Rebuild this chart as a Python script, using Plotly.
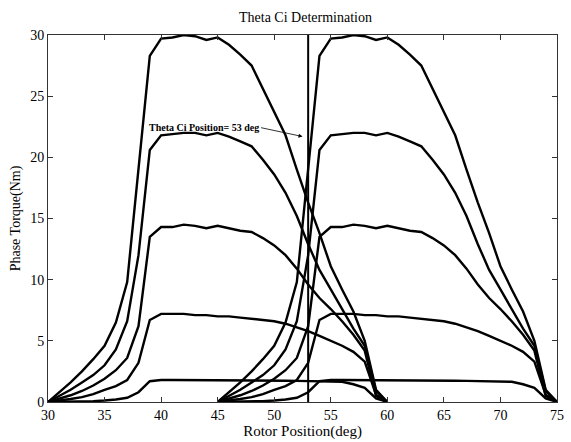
import plotly.graph_objects as go

# Rotor angles (deg) for the two phases
angle_phase_a = list(range(30, 61))
angle_phase_b = list(range(45, 76))

# Phase torque (Nm) at each degree, one list per current level
torque_c1 = [0, 0.01, 0.02, 0.04, 0.07, 0.12, 0.2, 0.35, 0.8, 1.7,
             1.8, 1.8, 1.8, 1.8, 1.8, 1.8, 1.79, 1.78, 1.77, 1.76,
             1.75, 1.74, 1.73, 1.72, 1.71, 1.7, 1.65, 1.45, 1.15, 0.3, 0]
torque_c2 = [0, 0.1, 0.25, 0.4, 0.65, 1.0, 1.3, 1.8, 3.2, 6.7,
             7.2, 7.2, 7.2, 7.1, 7.1, 7.0, 7.0, 6.9, 6.8, 6.7,
             6.6, 6.4, 6.1, 5.8, 5.4, 5.0, 4.6, 4.1, 3.3, 0.6, 0]
torque_c3 = [0, 0.25, 0.55, 0.9, 1.35, 1.9, 2.6, 3.6, 6.2, 13.5,
             14.3, 14.3, 14.5, 14.4, 14.2, 14.4, 14.2, 14.0, 13.9, 13.4,
             12.8, 12.0, 10.9, 9.6, 8.5, 7.6, 6.6, 5.5, 4.2, 0.5, 0]
torque_c4 = [0, 0.5, 1.0, 1.6, 2.2, 3.0, 4.3, 6.6, 12.0, 20.6,
             21.8, 21.9, 22.0, 22.0, 21.8, 22.0, 21.7, 21.3, 20.9, 19.8,
             18.6, 17.1, 15.2, 12.9, 10.8, 9.2, 7.6, 6.0, 4.6, 0.9, 0]
torque_c5 = [0, 0.8, 1.6, 2.5, 3.5, 4.6, 6.5, 9.8, 19.0, 28.3,
             29.7, 29.8, 30.0, 29.9, 29.6, 29.8, 29.2, 28.4, 27.5, 25.6,
             23.7, 21.8, 19.0, 16.3, 13.8, 11.1, 9.2, 7.4, 5.0, 1.0, 0]

theta_ci = 53
annotation_text = "Theta Ci Position= 53 deg"
x_ticks = [30, 35, 40, 45, 50, 55, 60, 65, 70, 75]
y_ticks = [0, 5, 10, 15, 20, 25, 30]

serif = "Liberation Serif, Times New Roman, serif"
fig = go.Figure()
for series in [torque_c1, torque_c2, torque_c3, torque_c4, torque_c5]:
    for ang in [angle_phase_a, angle_phase_b]:
        fig.add_trace(go.Scatter(x=ang, y=series, mode="lines",
                                 line=dict(color="black", width=2.4),
                                 showlegend=False, hoverinfo="skip"))

fig.add_trace(go.Scatter(x=[theta_ci, theta_ci], y=[0, 30], mode="lines",
                         line=dict(color="black", width=2),
                         showlegend=False, hoverinfo="skip"))

fig.add_annotation(x=52.5, y=21.7, ax=48.7, ay=22.45, xref="x", yref="y",
                   axref="x", ayref="y", text="", showarrow=True,
                   arrowhead=2, arrowsize=1, arrowwidth=0.8, arrowcolor="black")
fig.add_annotation(x=48.8, y=22.45, xref="x", yref="y", text=annotation_text,
                   showarrow=False, xanchor="right", yanchor="middle",
                   font=dict(family=serif, size=10, color="black", weight="bold"))

axis_common = dict(showgrid=False, zeroline=False, showline=True,
                   linecolor="#333333", linewidth=1, mirror="ticks",
                   ticks="inside", ticklen=5, tickcolor="#333333",
                   tickfont=dict(family=serif, size=14, color="black"))
fig.update_xaxes(range=[30, 75], tickvals=x_ticks,
                 title=dict(text="Rotor Position(deg)", standoff=2,
                            font=dict(family=serif, size=15, color="black")),
                 **axis_common)
fig.update_yaxes(range=[0, 30], tickvals=y_ticks,
                 title=dict(text="Phase Torque(Nm)", standoff=6,
                            font=dict(family=serif, size=14, color="black")),
                 **axis_common)
fig.update_layout(
    width=571, height=442,
    margin=dict(l=48, r=7, t=35, b=38),
    paper_bgcolor="white", plot_bgcolor="white",
    title=dict(text="Theta Ci Determination", x=0.535, xanchor="center",
               y=0.962, yanchor="middle",
               font=dict(family=serif, size=14, color="black")),
)
fig.write_html("out.html")
